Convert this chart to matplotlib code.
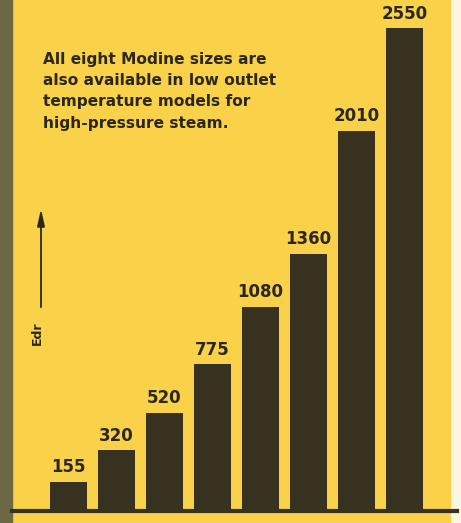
import matplotlib.pyplot as plt
import numpy as np
from matplotlib.patches import Rectangle

# Edr ratings of the eight Modine unit heater sizes
edr = [155, 320, 520, 775, 1080, 1360, 2010, 2550]
labels = ['155', '320', '520', '775', '1080', '1360', '2010', '2550']
note = ('All eight Modine sizes are\n'
        'also available in low outlet\n'
        'temperature models for\n'
        'high-pressure steam.')

W, H = 461, 523
yellow = '#fad24a'
dark = '#37321f'

fig = plt.figure(figsize=(W / 100, H / 100), dpi=100)
fig.patch.set_facecolor('#faf6e2')

# yellow page and the dark strip at the left edge (behind the axes)
fig.patches.append(Rectangle((12 / W, 0), (450 - 12) / W, 1,
                             transform=fig.transFigure, color=yellow, zorder=-2))
fig.patches.append(Rectangle((0, 0), 12 / W, 1,
                             transform=fig.transFigure, color='#6d6844', zorder=-2))

ax = fig.add_axes([12 / W, 1 - 511 / H, (457 - 12) / W, 511 / H])
ax.set_facecolor('none')

x = np.arange(len(edr))
ax.bar(x, edr, width=0.77, color=dark, zorder=2)
for xi, v, lab in zip(x, edr, labels):
    ax.annotate(lab, (xi, v), xytext=(0, 4), textcoords='offset points',
                ha='center', va='bottom', fontsize=12, fontweight='bold',
                color='#2b2719')

ax.set_xlim(-1.177, 8.094)
ax.set_ylim(0, 2700)
for side in ['top', 'right', 'left']:
    ax.spines[side].set_visible(False)
ax.spines['bottom'].set_linewidth(3)
ax.spines['bottom'].set_color(dark)
ax.set_xticks([])
ax.set_yticks([])

fig.text(43 / W, 1 - 52 / H, note, ha='left', va='top', fontsize=11.1,
         fontweight='bold', color='#2b2719', linespacing=1.52)

# Edr axis label with upward arrow
fig.text(37 / W, 1 - 333 / H, 'Edr', rotation=90, ha='center', va='center',
         fontsize=9, fontweight='bold', color='#2b2719')
ax.annotate('', xy=(41 / W, 1 - 206 / H), xytext=(41 / W, 1 - 310 / H),
            xycoords='figure fraction', textcoords='figure fraction',
            annotation_clip=False,
            arrowprops=dict(arrowstyle='-|>,head_length=1.0,head_width=0.22',
                            color='#2b2719', lw=1.3))

fig.savefig('out.png', dpi=100, facecolor=fig.get_facecolor())
